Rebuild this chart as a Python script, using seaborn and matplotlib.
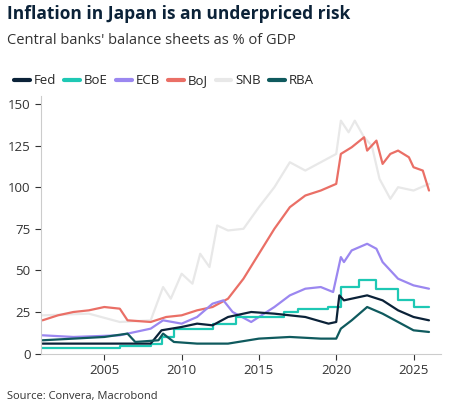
import matplotlib
matplotlib.use("Agg")
import matplotlib.pyplot as plt
import seaborn as sns
import pandas as pd

fed_x = [2001, 2008.0, 2008.7, 2010, 2011, 2012, 2013, 2014.5, 2016, 2018, 2019.5, 2020.0, 2020.2, 2020.5, 2021, 2022, 2023, 2024, 2025, 2026]
fed_y = [6, 6, 14, 16, 18, 17, 22, 25, 24, 22, 18, 19, 35, 32, 33, 35, 32, 26, 22, 20]
boe_x = [2001, 2006, 2008, 2008.7, 2009.5, 2012, 2013.5, 2016.6, 2017.5, 2019.5, 2020.3, 2021.5, 2022.6, 2024, 2025, 2026]
boe_y = [3.5, 4.5, 6, 10, 15, 18, 22, 25, 27, 28, 40, 44, 39, 32, 28, 28]
ecb_x = [2001, 2003, 2006, 2007, 2008, 2008.8, 2010, 2011, 2012, 2012.7, 2013.3, 2014.5, 2015, 2016, 2017, 2018, 2019, 2019.8, 2020.3, 2020.5, 2021, 2022, 2022.6, 2023, 2024, 2025, 2026]
ecb_y = [11, 10, 11, 13, 15, 20, 18, 22, 30, 32, 25, 19, 22, 28, 35, 39, 40, 37, 58, 55, 62, 66, 63, 55, 45, 41, 39]
boj_x = [2001, 2002, 2003, 2004, 2005, 2006, 2006.5, 2008, 2009, 2010, 2011, 2012, 2013, 2014, 2015, 2016, 2017, 2018, 2019, 2020, 2020.3, 2021, 2021.8, 2022, 2022.6, 2023, 2023.5, 2024, 2024.7, 2025, 2025.6, 2026]
boj_y = [20, 23, 25, 26, 28, 27, 20, 19, 22, 23, 26, 28, 33, 45, 60, 75, 88, 95, 98, 102, 120, 124, 130, 122, 128, 114, 120, 122, 118, 112, 110, 98]
snb_x = [2001, 2004, 2006, 2008, 2008.8, 2009.3, 2010, 2010.7, 2011.2, 2011.8, 2012.3, 2013, 2014, 2015, 2016, 2017, 2018, 2019, 2020, 2020.3, 2020.8, 2021.2, 2021.8, 2022.3, 2022.8, 2023.5, 2024, 2025, 2026]
snb_y = [23, 24, 19, 20, 40, 33, 48, 42, 60, 52, 77, 74, 75, 88, 100, 115, 110, 115, 120, 140, 133, 140, 130, 125, 105, 93, 100, 98, 102]
rba_x = [2001, 2005, 2006.5, 2007, 2008.5, 2008.8, 2009.5, 2011, 2013, 2015, 2017, 2019, 2020, 2020.3, 2021, 2022, 2023, 2024, 2025, 2026]
rba_y = [8, 10, 12, 7, 8, 12, 7, 6, 6, 9, 10, 9, 9, 15, 20, 28, 24, 19, 14, 13]

series = ["Fed", "BoE", "ECB", "BoJ", "SNB", "RBA"]
colors = {"Fed": "#0b2238", "BoE": "#1ec8b4", "ECB": "#9b87f0", "BoJ": "#ea6f66", "SNB": "#e8e8e8", "RBA": "#0f5a5e"}
data = {"Fed": (fed_x, fed_y), "BoE": (boe_x, boe_y), "ECB": (ecb_x, ecb_y),
        "BoJ": (boj_x, boj_y), "SNB": (snb_x, snb_y), "RBA": (rba_x, rba_y)}

sns.set_style("white")
plt.rcParams['font.family'] = ['Open Sans', 'DejaVu Sans']

fig = plt.figure(figsize=(4.55, 4.16), dpi=100)
ax = fig.add_axes([0.09, 0.15, 0.88, 0.62])

draw_order = ["SNB", "BoJ", "ECB", "BoE", "Fed", "RBA"]
for name in draw_order:
    x, y = data[name]
    df = pd.DataFrame({"year": x, "value": y})
    sns.lineplot(data=df, x="year", y="value", ax=ax, color=colors[name], lw=1.6,
                 drawstyle="steps-post" if name == "BoE" else "default", legend=False)

ax.set_xlim(2000.9, 2026.8)
ax.set_ylim(0, 155)
ax.set_xticks([2005, 2010, 2015, 2020, 2025])
ax.set_yticks([0, 25, 50, 75, 100, 125, 150])
ax.set_xlabel("")
ax.set_ylabel("")
for s in ["top", "right"]:
    ax.spines[s].set_visible(False)
for s in ["left", "bottom"]:
    ax.spines[s].set_color("#cccccc")
ax.tick_params(axis="both", length=4, color="#333333", labelsize=9.5, labelcolor="#333333", direction="out")
ax.tick_params(axis="x", bottom=True)
ax.tick_params(axis="y", left=True)

fig.text(0.015, 0.955, "Inflation in Japan is an underpriced risk", fontsize=12.5, fontweight="bold", color="#0b2238")
fig.text(0.015, 0.895, "Central banks' balance sheets as % of GDP", fontsize=10.5, color="#333333")
handles = [plt.Line2D([], [], color=colors[n], lw=3) for n in series]
fig.legend(handles, series, loc="upper left", bbox_to_anchor=(0.005, 0.85), ncol=6, frameon=False,
           fontsize=9.5, handlelength=1.2, handletextpad=0.3, columnspacing=0.6)
fig.text(0.015, 0.04, "Source: Convera, Macrobond", fontsize=8, color="#333333")

fig.savefig("out.png", dpi=100)
